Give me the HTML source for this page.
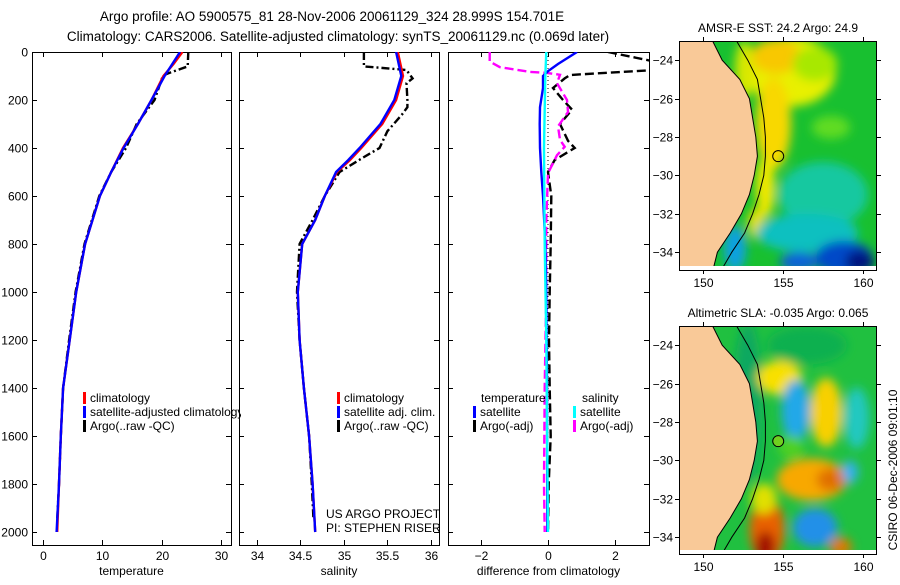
<!DOCTYPE html>
<html><head><meta charset="utf-8"><style>
html,body{margin:0;padding:0;background:#fff;}
svg text{font-family:"Liberation Sans",sans-serif;font-size:12px;fill:#000;}
</style></head><body>
<svg id="fig" xmlns="http://www.w3.org/2000/svg" width="900" height="580" viewBox="0 0 900 580">
<defs>
<filter id="blur" x="-20%" y="-20%" width="140%" height="140%"><feGaussianBlur stdDeviation="5"/></filter>
<clipPath id="clipM1"><rect x="679" y="41" width="198" height="229"/></clipPath>
<clipPath id="clipM2"><rect x="679" y="326" width="198" height="228"/></clipPath>
<clipPath id="clipLeg"><rect x="0" y="380" width="241" height="60"/></clipPath>
</defs>
<text x="332" y="21" text-anchor="middle" style="font-size:13.5px">Argo profile: AO 5900575_81 28-Nov-2006 20061129_324 28.999S 154.701E</text>
<text x="338" y="41" text-anchor="middle" style="font-size:13.5px">Climatology: CARS2006. Satellite-adjusted climatology: synTS_20061129.nc (0.069d later)</text>
<g id="plots"></g>
<text transform="translate(897,470) rotate(-90)" text-anchor="middle">CSIRO 06-Dec-2006 09:01:10</text>
</svg>
<script>
// ---- data ----
const depthT=[0,50,100,200,300,400,500,600,800,1000,1200,1400,1600,1800,2000];
const climT=[23.5,22,20.3,18.3,16,13.5,11.5,9.6,7.1,5.6,4.5,3.4,3.0,2.7,2.4];
const satT=[23.1,21.8,20.5,18.3,16,13.6,11.5,9.6,7.1,5.6,4.5,3.4,3.0,2.7,2.3];
const depthArgoT=[0,60,90,100,200,300,400,500,600,800,1000,1200,1400,1600,1800,1950];
const argoT=[24.5,24.4,21,20.2,18.8,15.8,14,11.5,9.5,7.0,5.5,4.4,3.4,3.0,2.7,2.4];
const depthS=[0,100,200,300,400,450,500,600,700,800,1000,1200,1400,1600,1800,2000];
const climS=[35.62,35.68,35.6,35.44,35.2,35.07,34.92,34.78,34.67,34.52,34.47,34.49,34.54,34.6,34.64,34.67];
const satS=[35.6,35.66,35.58,35.42,35.18,35.05,34.91,34.78,34.67,34.52,34.47,34.49,34.54,34.6,34.64,34.67];
const depthArgoS=[0,60,75,110,130,200,230,260,330,400,440,500,600,700,800,1000,1200,1400,1600,1800,1950];
const argoS=[35.23,35.23,35.72,35.79,35.72,35.73,35.73,35.67,35.5,35.41,35.22,34.95,34.78,34.64,34.49,34.46,34.49,34.54,34.6,34.63,34.65];
const depthDT=[0,50,80,100,150,230,300,400,500,600,800,1000,1400,2000];
const diffSatT=[0.87,0.3,0,-0.15,-0.15,-0.24,-0.25,-0.24,-0.2,-0.15,-0.08,-0.05,-0.03,-0.02];
const depthDS=[0,100,400,800,1200,2000];
const diffSatS=[-0.05,-0.08,-0.12,-0.1,-0.05,0];
const depthDAT=[0,40,75,96,110,150,200,240,300,370,400,450,500,600,800,1000,1200,1400,1600,1800,2000];
const diffArgoT=[1.8,3.2,3.2,0.66,0.5,0.15,0.45,0.72,0.36,0.6,0.8,0.2,0,0.1,0.08,0.05,0.03,0.05,0.08,0.02,0];
const depthDAS=[0,40,63,83,87,95,130,200,250,310,366,395,430,505,700,1000,1400,1800,2000];
const diffArgoS=[-1.75,-1.75,-1.45,-0.55,-0.03,0.36,0.27,0.57,0.6,0.3,0.36,0.5,0.27,0,-0.05,-0.05,-0.1,-0.12,-0.1];
const depthTicks=[0,200,400,600,800,1000,1200,1400,1600,1800,2000];
const tempTicks=[0,10,20,30];
const salTicks=["34","34.5","35","35.5","36"];
const diffTicks=[-2,0,2];
const latTicks=[-24,-26,-28,-30,-32,-34];
const lonTicks=[150,155,160];
const floatLon=154.701, floatLat=-28.999;
const coastLon=[150.6,151.2,152.3,152.9,153.1,153.3,153.4,153.2,152.9,152.4,151.7,150.9,150.6];
const coastLat=[-23,-24,-25,-26,-27,-28,-29,-30,-31,-32,-33,-34,-35];
const shelfLon=[152.1,152.8,153.4,153.6,153.8,153.9,153.9,153.8,153.5,153.1,152.6,151.8,151.1];
// blobs: lon, lat, rx(deg), ry(deg), color
const sstBlobs=[[155.5,-24.6,2.8,1.8,"#e8f000"],[154.4,-27.3,1.1,2.4,"#f8d800"],[154.6,-23.8,1.6,0.9,"#f8c800"],[157,-24.2,1.4,0.9,"#a8e800"],[153.9,-30.6,0.6,1.6,"#f0e800"],[153.3,-32.5,0.5,0.8,"#e8e000"],[157.5,-31,2.8,1.7,"#18c8a0"],[156.5,-33,3.2,1,"#10c0c0"],[158.8,-34.3,1.8,0.9,"#0048c8"],[159.8,-34.5,0.9,0.6,"#001880"],[152,-33.8,0.7,1.2,"#10a0e0"],[156,-34.5,1.2,0.5,"#0860d8"],[158,-27.5,1.2,0.6,"#60dc20"],[152.6,-24.5,0.6,1.5,"#d8e800"]];
const slaBlobs=[[152.8,-27,0.9,4.2,"#10a860"],[154.8,-25.7,1.4,0.9,"#f8e000"],[157.7,-27.5,1,1.8,"#f8d000"],[156.8,-31,2.2,1.1,"#f8a800"],[158,-31,0.9,0.6,"#e07000"],[154,-33.6,1.1,1.7,"#e86000"],[153.9,-34.5,0.6,0.8,"#a01000"],[155.8,-27.4,0.9,1.6,"#20a8e8"],[157,-33.5,1.4,1,"#2090e8"],[159.2,-30.6,0.5,0.6,"#30b0f0"],[159.6,-27.8,0.8,1.6,"#20c8c0"],[158.6,-34.5,0.7,0.5,"#e07800"],[153.8,-32,0.8,0.8,"#e0e000"],[156.5,-24,2.5,1,"#10b050"],[155.5,-29.3,0.8,0.6,"#50d020"]];

const NS="http://www.w3.org/2000/svg";
const root=document.getElementById('plots');
function mk(tag,attrs,parent){const e=document.createElementNS(NS,tag);for(const k in attrs)e.setAttribute(k,attrs[k]);(parent||root).appendChild(e);return e;}
function txt(s,x,y,anchor,parent){const t=mk('text',{x:x,y:y,'text-anchor':anchor||'start'},parent);t.textContent=s;return t;}

const top0=52, bot0=545;
function yD(d){return 52+d*0.24;}
const panels=[
 {name:'temperature',x0:32,x1:231,v0:-1.85,v1:31.7,ticks:tempTicks,label:'temperature'},
 {name:'salinity',x0:239,x1:439,v0:33.793,v1:36.094,ticks:salTicks.map(Number),tl:salTicks,label:'salinity'},
 {name:'difference',x0:448,x1:649,v0:-3.0,v1:3.03,ticks:diffTicks,label:'difference from climatology'}
];
panels.forEach(p=>{p.sx=v=>p.x0+(v-p.v0)/(p.v1-p.v0)*(p.x1-p.x0);});

function line(p,depths,vals,color,dash,name){
  const pts=depths.map((d,i)=>p.sx(vals[i]).toFixed(1)+','+yD(d).toFixed(1)).join(' ');
  const el=mk('polyline',{points:pts,fill:'none',stroke:color,'stroke-width':2.4,'stroke-dasharray':dash||'none','clip-path':'url(#clip-'+p.name+')'});
  
  
}
panels.forEach((p,pi)=>{
  const g=mk('g',{});
  
  
  const cp=mk('clipPath',{id:'clip-'+p.name},g);
  mk('rect',{x:p.x0,y:top0,width:p.x1-p.x0,height:bot0-top0},cp);
  const fr=mk('rect',{x:p.x0+0.5,y:top0+0.5,width:p.x1-p.x0,height:bot0-top0,fill:'none',stroke:'#000','stroke-width':1},g);
  
  
  p.ticks.forEach((v,i)=>{
    const x=Math.round(p.sx(v))+0.5;
    mk('line',{x1:x,x2:x,y1:top0,y2:top0+5,stroke:'#000'},g);
    mk('line',{x1:x,x2:x,y1:bot0,y2:bot0-5,stroke:'#000'},g);
    const t=txt(p.tl?p.tl[i]:String(v).replace('-','\u2212'),x,560,'middle',g);
    
    
  });
  depthTicks.forEach(d=>{
    const y=Math.round(yD(d))+0.5;
    mk('line',{x1:p.x0,x2:p.x0+5,y1:y,y2:y,stroke:'#000'},g);
    mk('line',{x1:p.x1-5,x2:p.x1,y1:y,y2:y,stroke:'#000'},g);
    if(pi===0){const t=txt(String(d),28,y+4,'end',g);
      
      }
  });
  const xl=txt(p.label,(p.x0+p.x1)/2,575,'middle',g);
  
  
});
const [pT,pS,pD]=panels;
line(pT,depthArgoT,argoT,'#000','8,3,2,3','argo-temperature-line');
line(pT,depthT,climT,'#f00','','climatology-temperature-line');
line(pT,depthT,satT,'#00f','','satellite-temperature-line');
line(pS,depthArgoS,argoS,'#000','8,3,2,3','argo-salinity-line');
line(pS,depthS,climS,'#f00','','climatology-salinity-line');
line(pS,depthS,satS,'#00f','','satellite-salinity-line');
mk('line',{x1:pD.sx(0),x2:pD.sx(0),y1:top0,y2:yD(2000),stroke:'#000','stroke-dasharray':'1,3'});
line(pD,depthDAT,diffArgoT,'#000','9,4','argo-temperature-diff-line');
line(pD,depthDAS,diffArgoS,'#f0f','9,4','argo-salinity-diff-line');
line(pD,depthDT,diffSatT,'#00f','','satellite-temperature-diff-line');
line(pD,depthDS,diffSatS,'#0ff','','satellite-salinity-diff-line');

function legendEntry(x,y,color,label,name,clip){
  const g=mk('g',clip?{'clip-path':'url(#'+clip+')'}:{});
  
  
  mk('rect',{x:x,y:y-10,width:3,height:12,fill:color},g);
  txt(label,x+7,y,'start',g);
}
legendEntry(83,402,'#f00','climatology','legend-climatology','clipLeg');
legendEntry(83,416,'#00f','satellite-adjusted climatology','legend-satellite','clipLeg');
legendEntry(83,430,'#000','Argo(..raw -QC)','legend-argo','clipLeg');
legendEntry(337,402,'#f00','climatology','legend-sal-climatology');
legendEntry(337,416,'#00f','satellite adj. clim.','legend-sal-satellite');
legendEntry(337,430,'#000','Argo(..raw -QC)','legend-sal-argo');
txt('temperature',481,402);
legendEntry(473,416,'#00f','satellite','legend-diff-temp-satellite');
legendEntry(473,430,'#000','Argo(-adj)','legend-diff-temp-argo');
txt('salinity',582,402);
legendEntry(573,416,'#0ff','satellite','legend-diff-sal-satellite');
legendEntry(573,430,'#f0f','Argo(-adj)','legend-diff-sal-argo');
txt('US ARGO PROJECT',326,518);
txt('PI: STEPHEN RISER',326,532);
// ---- maps ----
function drawMap(id,y0,y1,title,base,blobs,clip,dotColor){
  const g=mk('g',{});
  
  
  const x0=679,x1=877;
  const ky=19.2;
  const sx=lon=>x0+(lon-148.5)*16;
  const sy=lat=>y0+(-23-lat)*ky;
  const cg=mk('g',{'clip-path':'url(#'+clip+')'},g);
  mk('rect',{x:x0,y:y0,width:x1-x0,height:y1-y0,fill:base},cg);
  const bg=mk('g',{filter:'url(#blur)'},cg);
  blobs.forEach(b=>{
    const e=mk('ellipse',{cx:sx(b[0]),cy:sy(b[1]),rx:b[2]*16,ry:b[3]*ky,fill:b[4]},bg);
    
    
  });
  const pts=coastLon.map((l,i)=>sx(l).toFixed(1)+','+sy(coastLat[i]).toFixed(1));
  const land=mk('polygon',{points:x0+','+(y0-5)+' '+pts.join(' ')+' '+x0+','+(y1+5),fill:'#f9c998'},cg);
  
  
  mk('polyline',{points:pts.join(' '),fill:'none',stroke:'#000','stroke-width':1},cg);
  const sh=mk('polyline',{points:shelfLon.map((l,i)=>sx(l).toFixed(1)+','+sy(coastLat[i]).toFixed(1)).join(' '),fill:'none',stroke:'#000','stroke-width':1},cg);
  
  
  mk('rect',{x:x0,y:y1-4,width:x1-x0,height:4,fill:'#fff'},cg);
  const c=mk('circle',{cx:sx(floatLon),cy:sy(floatLat),r:5.5,fill:dotColor,stroke:'#000','stroke-width':1},g);
  
  
  mk('rect',{x:x0+0.5,y:y0+0.5,width:x1-x0-1,height:y1-y0,fill:'none',stroke:'#000'},g);
  lonTicks.forEach(l=>{const x=Math.round(sx(l))+0.5;
    mk('line',{x1:x,x2:x,y1:y0-4,y2:y0,stroke:'#000'},g);
    mk('line',{x1:x,x2:x,y1:y1,y2:y1+4,stroke:'#000'},g);
    const t=txt(String(l),x,y1+17,'middle',g);
    
    });
  latTicks.forEach(l=>{const y=Math.round(sy(l))+0.5;
    mk('line',{x1:x0-4,x2:x0,y1:y,y2:y,stroke:'#000'},g);
    mk('line',{x1:x1,x2:x1+4,y1:y,y2:y,stroke:'#000'},g);
    const t=txt(String(l).replace('-','\u2212'),x0-6,y+4,'end',g);
    
    });
  const tt=txt(title,778,y0-9,'middle',g);
  
  
}
drawMap('sst-map',41,270,'AMSR-E SST: 24.2 Argo: 24.9','#18c030',sstBlobs,'clipM1','none');
drawMap('sla-map',326,554,'Altimetric SLA: -0.035 Argo: 0.065','#20c040',slaBlobs,'clipM2','#70d020');
</script>
</body></html>
